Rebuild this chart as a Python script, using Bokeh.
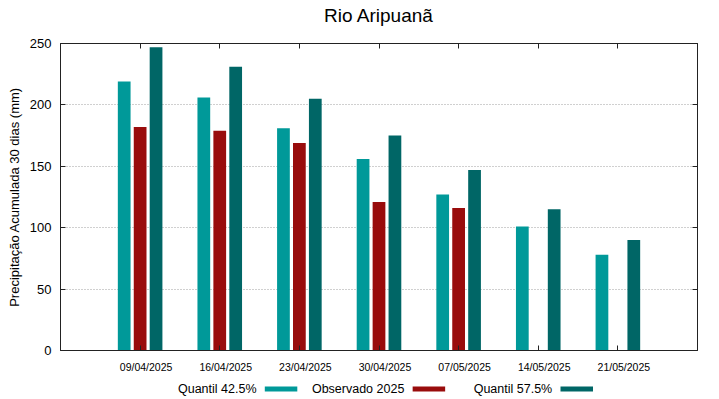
from bokeh.plotting import figure
from bokeh.models import (Range1d, FixedTicker, LinearAxis, CustomJSTickFormatter)
from bokeh.layouts import column
from bokeh.embed import file_html
from bokeh.resources import INLINE
from bokeh.core.properties import value

# ---------------- data ----------------
dates = ["09/04/2025", "16/04/2025", "23/04/2025", "30/04/2025",
         "07/05/2025", "14/05/2025", "21/05/2025"]
quantil_425 = [219, 206, 181, 156, 127, 101, 78]
observado_2025 = [182, 179, 169, 121, 116, None, None]
quantil_575 = [247, 231, 205, 175, 147, 115, 90]
series_names = ["Quantil 42.5%", "Observado 2025", "Quantil 57.5%"]
series_colors = ["#009999", "#990c0c", "#006666"]
y_ticks = [0, 50, 100, 150, 200, 250]
title_text = "Rio Aripuanã"
y_label = "Precipitação Acumulada 30 dias (mm)"

# ---------------- layout / style ----------------
FONT = "Liberation Sans"
W = 719
HT = 30          # title strip
H1 = 346         # chart
H2 = 23          # legend strip
BL, BR, BT, BB = 60, 22, 13, 26
AX = "#222222"
Y_MAX = 250
LABEL_SHIFT = 0.075   # x tick labels sit slightly right of their ticks


def strip(height):
    f = figure(width=W, height=height, output_backend="svg", toolbar_location=None,
               x_range=Range1d(BL, W - BR), y_range=Range1d(0, height),
               x_axis_type=None, y_axis_type=None, min_border=0, title=None)
    f.outline_line_color = None
    f.background_fill_color = "white"
    f.border_fill_color = "white"
    f.grid.visible = False
    return f


# ---------------- title strip ----------------
tf = strip(HT)
tf.text(x=[(BL + W - BR) / 2], y=[HT - 15], text=[title_text], text_align="center",
        text_baseline="middle", text_font=value(FONT), text_font_size="19px",
        text_color="black")

# ---------------- chart ----------------
p = figure(width=W, height=H1, output_backend="svg", toolbar_location=None, title=None,
           x_range=Range1d(-1, len(dates)), y_range=Range1d(0, Y_MAX),
           min_border_left=BL, min_border_right=BR,
           min_border_top=BT, min_border_bottom=BB)
p.background_fill_color = "white"
p.border_fill_color = "white"
p.outline_line_color = AX

offsets = [-0.2, 0.0, 0.2]
bar_w = 0.16
for k, vals in enumerate([quantil_425, observado_2025, quantil_575]):
    xs = [i + offsets[k] for i in range(len(dates))]
    tops = [float("nan") if v is None else v for v in vals]
    p.vbar(x=xs, top=tops, bottom=0, width=bar_w,
           fill_color=series_colors[k], line_color=None)

# grid
p.xgrid.visible = False
p.ygrid.ticker = FixedTicker(ticks=y_ticks)
p.ygrid.grid_line_color = "#a0a0a0"
p.ygrid.grid_line_dash = "1 2"
p.ygrid.grid_line_width = 1

empty = CustomJSTickFormatter(code="return ''")

# left y axis
ya = p.yaxis[0]
ya.ticker = FixedTicker(ticks=y_ticks)
ya.axis_label = y_label
ya.axis_label_text_font = FONT
ya.axis_label_text_font_size = "13px"
ya.axis_label_text_font_style = "normal"
ya.axis_label_text_color = "black"
ya.axis_label_standoff = 5
ya.major_label_text_font = FONT
ya.major_label_text_font_size = "13px"
ya.major_label_text_color = "black"
ya.major_label_standoff = 9
ya.major_tick_in = 5
ya.major_tick_out = 0
ya.minor_tick_line_color = None
ya.axis_line_color = AX
ya.major_tick_line_color = AX

# bottom x axis: labels at (shifted) major ticks, tick marks drawn as minor ticks
n = len(dates)
xa = p.xaxis[0]
xa.ticker = FixedTicker(ticks=[i + LABEL_SHIFT for i in range(n)],
                        minor_ticks=list(range(n)))
xa.formatter = CustomJSTickFormatter(args=dict(labels=dates),
                                     code="return labels[index] ?? ''")
xa.major_label_text_font = FONT
xa.major_label_text_font_size = "10.5px"
xa.major_label_text_color = "black"
xa.major_label_standoff = 10
xa.major_tick_line_color = None
xa.major_tick_in = 0
xa.major_tick_out = 0
xa.minor_tick_in = 5
xa.minor_tick_out = 0
xa.minor_tick_line_color = AX
xa.axis_line_color = AX

# mirrored axes
top_ax = LinearAxis(ticker=FixedTicker(ticks=list(range(n))), formatter=empty,
                    major_tick_in=5, major_tick_out=0, minor_tick_line_color=None,
                    major_label_standoff=0, axis_line_color=AX, major_tick_line_color=AX)
p.add_layout(top_ax, "above")
right_ax = LinearAxis(ticker=FixedTicker(ticks=y_ticks), formatter=empty,
                      major_tick_in=5, major_tick_out=0, minor_tick_line_color=None,
                      major_label_standoff=0, axis_line_color=AX, major_tick_line_color=AX)
p.add_layout(right_ax, "right")

# ---------------- legend strip ----------------
lg = strip(H2)
first_right = 256
step = 147.85
gap = 8.3
sw_w, sw_h = 32.5, 4.8
ly = 10.5
text_x = [first_right + step * k for k in range(len(series_names))]
sw_x = [t + gap + sw_w / 2 for t in text_x]
lg.text(x=text_x, y=[ly] * 3, text=series_names, text_align="right",
        text_baseline="middle", text_font=value(FONT), text_font_size="12.5px",
        text_color="black")
lg.rect(x=sw_x, y=[ly] * 3, width=sw_w, height=sw_h,
        fill_color=series_colors, line_color=None)

layout = column(tf, p, lg, spacing=0)
open("out.html", "w").write(file_html(layout, INLINE))
